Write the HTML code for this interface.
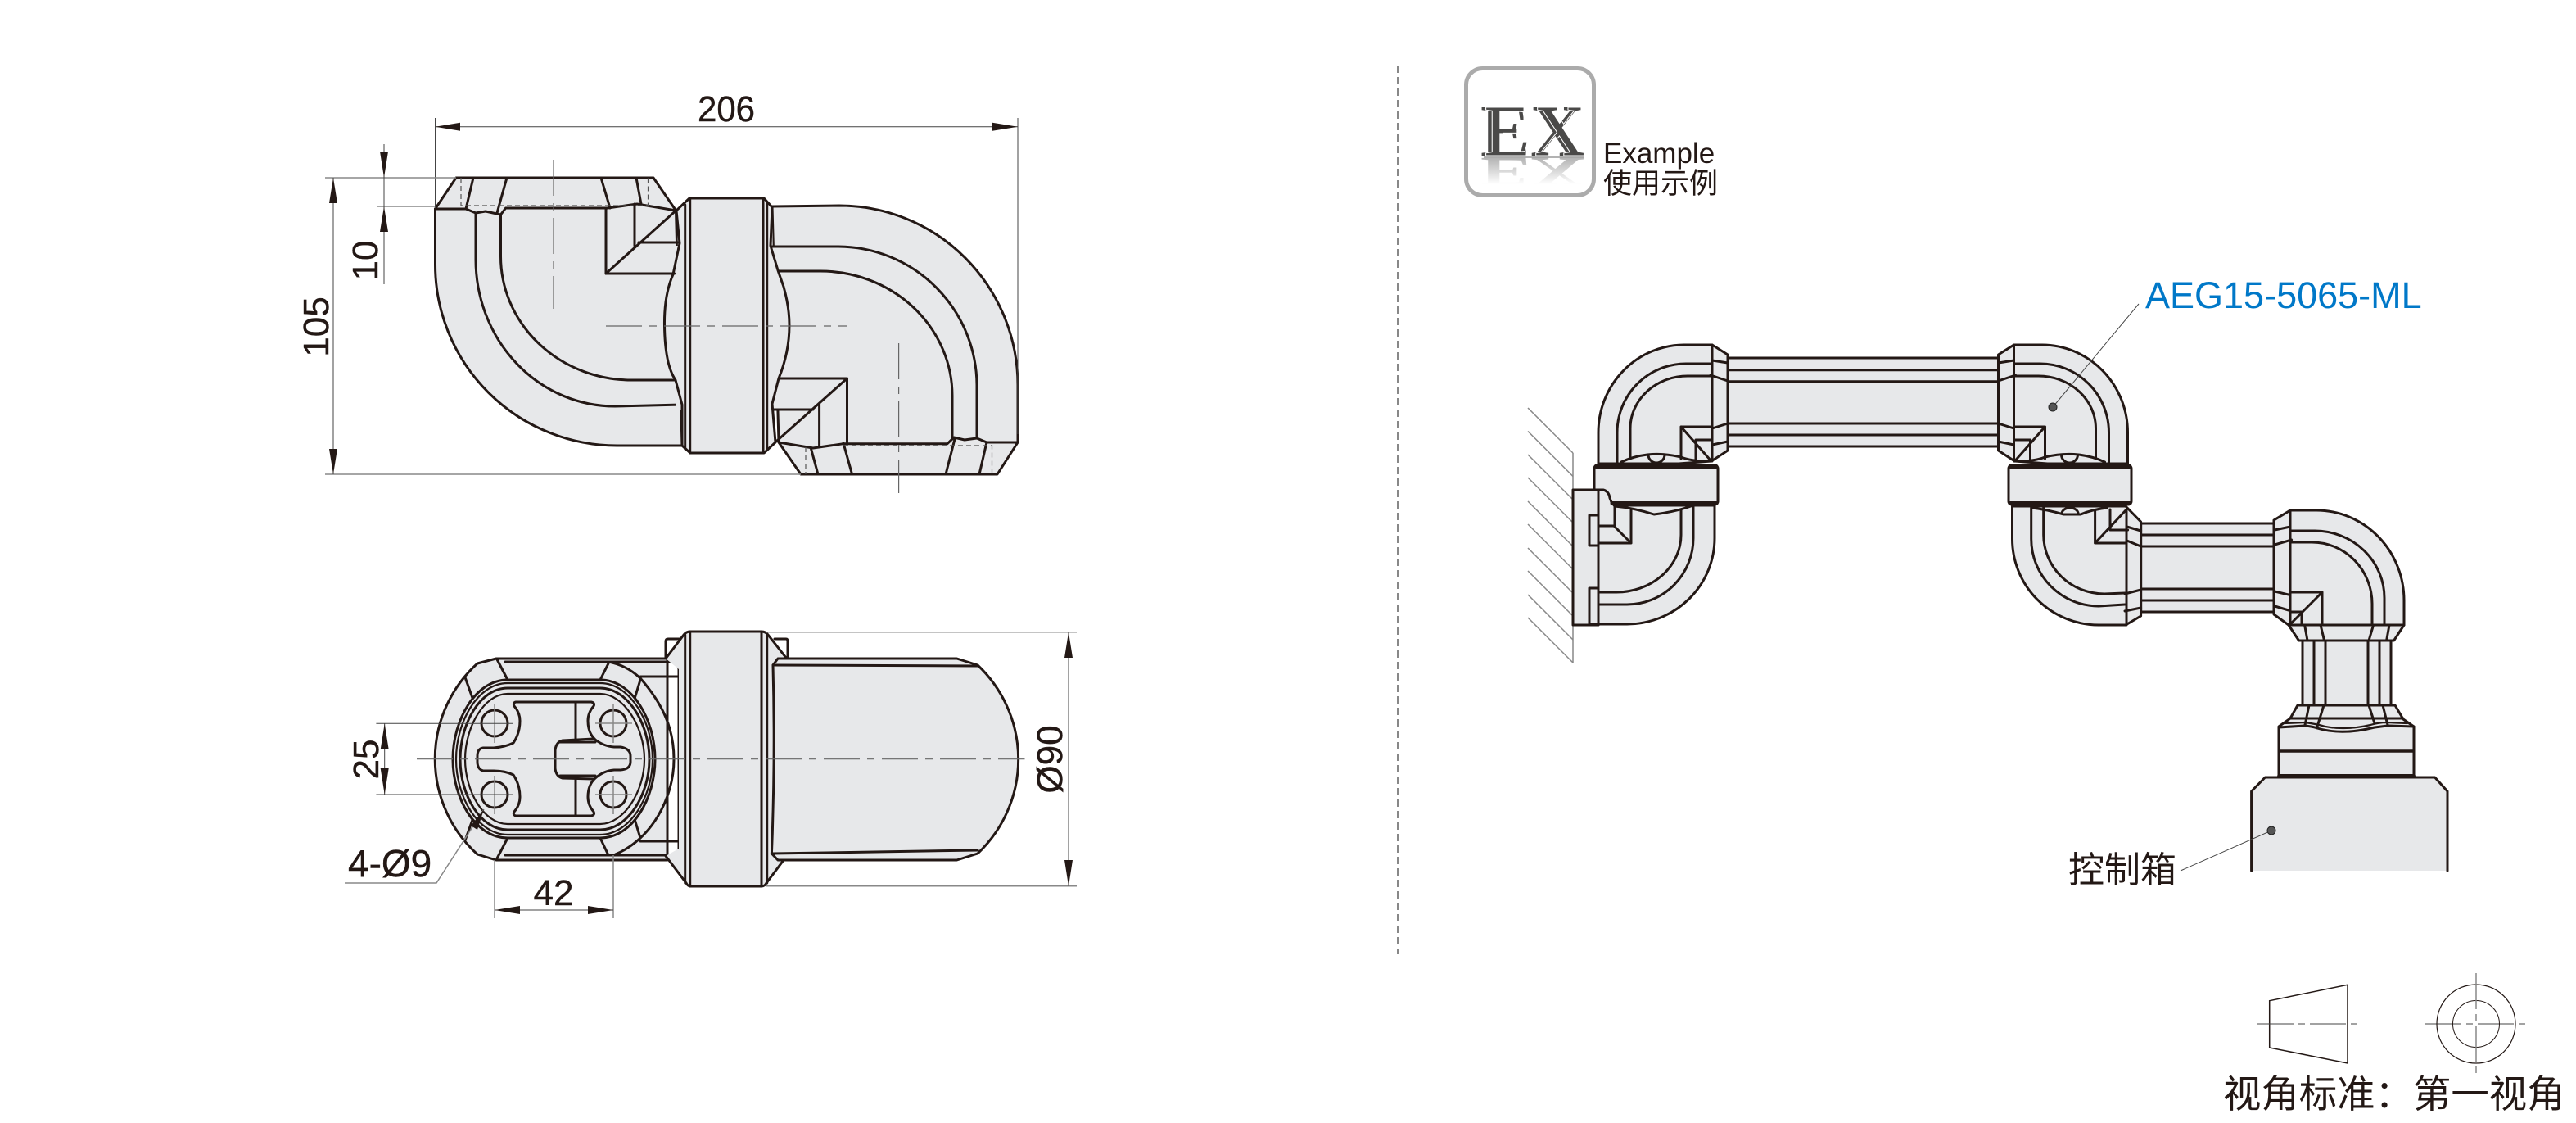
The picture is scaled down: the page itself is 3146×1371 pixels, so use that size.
<!DOCTYPE html>
<html><head><meta charset="utf-8">
<style>
html,body{margin:0;padding:0;background:#fff}
svg{display:block}
text{font-family:"Liberation Sans","Noto Sans CJK SC",sans-serif;fill:#231815}
.w{stroke:#231815;stroke-width:.4}
.s{fill:#e7e8ea;stroke:#231815;stroke-width:3;stroke-linejoin:round;stroke-linecap:round}
.f{fill:#e7e8ea;stroke:none}
.l{fill:none;stroke:#231815;stroke-width:3;stroke-linejoin:round;stroke-linecap:round}
.t{fill:none;stroke:#231815;stroke-width:2.2;stroke-linejoin:round}
.h{fill:none;stroke:#231815;stroke-width:5;stroke-linecap:round}
.d{fill:none;stroke:#444;stroke-width:1}
.g{fill:none;stroke:#888;stroke-width:1.5}
.c{fill:none;stroke:#666;stroke-width:1.2;stroke-dasharray:44 9 9 9}
.k{fill:none;stroke:#555;stroke-width:1.2;stroke-dasharray:6 4}
.a{fill:#231815;stroke:none}
</style></head><body>
<svg xmlns="http://www.w3.org/2000/svg" width="3146" height="1371" viewBox="0 0 3146 1371">
<defs>
<linearGradient id="refl" gradientUnits="userSpaceOnUse" x1="0" y1="0" x2="0" y2="-58"><stop offset="0" stop-color="#b4b4b4"/><stop offset="1" stop-color="#fff"/></linearGradient>
<g id="elbow1">
<path class="s" d="M1952 566V528A105 107 0 0 1 2056.500 421H2091L2110 433V550L2090 563L2050 566Z"/>
<path class="l" d="M1975 565V528A84 84 0 0 1 2059 444H2090"/>
<path class="l" d="M1991 560V523A70 64 0 0 1 2061.500 459H2090"/>
<path class="l" d="M2091 421V563"/>
<path class="l" d="M2091 440L2110 443M2089 458L2110 465M2091 523L2110 517M2091 543L2110 539"/>
<path class="l" d="M2053 560V521H2091M2053 521L2090 563M2071 563V537H2091"/>
<path class="l" d="M1980 564Q1995 557 2012 555Q2032 553 2053 558Q2065 563 2087 563"/>
<path class="l" d="M2013 555A10 10 0 0 0 2033 555"/>
</g>
</defs>

<!-- ================= TOP VIEW ================= -->
<path class="s" d="M1025 251A218 219 0 0 1 1243 470V540L1218 579H978L951 540L943 252Z"/>
<path class="l" d="M942 301H1024A170 170 0 0 1 1193 470V535"/>
<path class="l" d="M951 331H1002A161 152 0 0 1 1163 483V535"/>
<path class="l" d="M951 462H1034.500V540M1034.500 462L949 538M945 500H993M1000.600 493V545"/>
<path class="l" d="M951 540L993 547L1030 541.700H1157L1165 534L1178 537L1193 535L1205 540H1243"/>
<path class="l" d="M990 546L999 579M1030 541L1040.600 579M1166 536L1155 579M1205 540L1196 579"/>
<path class="k" d="M1030 544H1211.500V579M984 546V579"/>
<path class="s" d="M557 217H798L825.500 257L833 544H754A222 221 0 0 1 531.500 323V255Z"/>
<path class="l" d="M531.500 255H569L581 260L593 258L611.500 262L617.600 254H742L778 249L825.500 257"/>
<path class="l" d="M578 217L569 255M619 217L607 260M734 217L745 254M777 217L783 249"/>
<path class="k" d="M563 217V251H791.500V217"/>
<path class="l" d="M581 260V317A170 179 0 0 0 751 496L833 494"/>
<path class="l" d="M611.500 262V313A160 151 0 0 0 772 464H824"/>
<path class="l" d="M740 254V334H823.600M740 334L825.500 257M775 249V300M780 296H829"/>
<!-- centre band -->
<path class="f" d="M827 257L842 242H933L943 253L947 540L933 553H843L833 544Z"/>
<path class="f" d="M826 300H960V500H826Z"/>
<path class="l" d="M826 257L830 297L822 335Q811 360 811.500 397Q812 445 825 464L833 494V544"/>
<path class="l" d="M943 253L941 300L950 330L957 350Q964 375 964 397Q964 430 951 462L943 493L947 540"/>
<path class="l" d="M826 257L842 242H933L943 253M833 544L843 553H933L947 540"/>
<path class="l" d="M836.700 250V548M842.700 242V553M932 242V553M936.700 248V548"/>
<path class="l" d="M822 334H740M828 296H780M942 301H960M951 331H970M951 462H975M945 500H965" style="stroke-dasharray:none"/>
<path class="c" d="M676 195V377M740 398H1034.500M1097.600 419V602"/>
<!-- top view dimensions -->
<path class="d" d="M531.500 144V254M1243 144V530M531.500 154.700H1243"/>
<polygon class="a" points="531.500,154.700 562,149.700 562,159.700"/>
<polygon class="a" points="1243,154.700 1212,149.700 1212,159.700"/>
<text class="w" x="887" y="148" font-size="44" text-anchor="middle" textLength="70" lengthAdjust="spacingAndGlyphs">206</text>
<path class="g" d="M397 217H557M397 579H978M460 252H531"/>
<path class="d" d="M469 176V347M407 217V579"/>
<polygon class="a" points="469,217 464,185 474,185"/>
<polygon class="a" points="469,252 464,283 474,283"/>
<polygon class="a" points="407,217 402,248 412,248"/>
<polygon class="a" points="407,579 402,548 412,548"/>
<text class="w" transform="translate(461,318) rotate(-90)" font-size="44" text-anchor="middle">10</text>
<text class="w" transform="translate(401,399) rotate(-90)" font-size="44" text-anchor="middle">105</text>

<!-- ================= BOTTOM VIEW ================= -->
<path class="l" d="M813 804V783Q813 780 816 780H836M946 780H960Q962 780 962 783V804"/>
<path class="s" d="M606 804H815V1050H606L583 1043A157 157 0 0 1 583 810Z"/>
<path class="l" d="M743 808Q765 812 782 828C810 860 823 890 823 927C823 975 795 1025 751.500 1043"/>
<path class="l" d="M617 808H822Q828 808 829 817L829 1036Q829 1044 822 1044H617M782 826H829M782 1027H829"/>
<path class="l" d="M607 805L620 830M743 810L733 830M607 1048L620 1023M743 1044L733 1023M568 827L577 852M782 830L775 853M568 1026L577 1001M782 1023L775 1000"/>
<path class="s" d="M620 830H733C773 830 800 880 800 927C800 974 773 1023 733 1023H620C580 1023 553 974 553 927C553 880 580 830 620 830Z"/>
<path class="t" d="M620 834H733C770 834 797 882 797 927C797 972 770 1019 733 1019H620C583 1019 557 972 557 927C557 882 583 834 620 834Z"/>
<path class="l" d="M620 840H733C767 840 793 884 793 927C793 970 767 1013 733 1013H620C586 1013 562 970 562 927C562 884 586 840 620 840Z"/>
<path class="t" d="M620 847H733C762 847 787 888 787 927C787 966 762 1006 733 1006H620C591 1006 568 966 568 927C568 888 591 847 620 847Z"/>
<path class="l" d="M630 857H722Q727 858 725 862Q718 870 718 880Q718 895 727 903Q737 911 750 912H758Q770 914 770 923V930Q770 939 758 940H750Q737 941 727 950Q718 958 718 973Q718 983 725 991Q727 995 722 996H630Q626 995 628 991Q635 983 635 973Q635 958 627 946Q617 941 603 941H590Q583 939 583 930V923Q583 914 590 913H603Q617 912 627 907Q635 895 635 880Q635 870 628 862Q626 858 630 857Z"/>
<path class="l" d="M703 857V902M703 951V996"/>
<path class="l" d="M725 902L687 904Q679 906 678 916V938Q679 948 687 950L725 951M684 906H727M684 947H727"/>
<circle class="l" cx="604" cy="883" r="16"/><circle class="l" cx="749" cy="883" r="16"/>
<circle class="l" cx="604" cy="970" r="16"/><circle class="l" cx="749" cy="970" r="16"/>
<!-- band -->
<path class="f" d="M840 771H933L960 803L945 812V1042L957 1050L934 1082H841L813 1045L829 1036V817L813 804Z"/>
<path class="l" d="M813 804L835 775Q838 771 843 771H930Q935 771 938 775L960 803M957 1050L936 1078Q934 1082 930 1082H843Q840 1082 838 1078L813 1045"/>
<path class="l" d="M836.700 775V1078M842.700 771V1082M930 771V1082M936.700 775V1078"/>
<!-- barrel -->
<path class="s" d="M944 812L950 804H1168.500L1194 812A158 158 0 0 1 1194 1042L1168.500 1050H950L942.400 1042Q947 927 944 812Z"/>
<path class="l" d="M944 812L1194 813M942.400 1042L1194 1038"/>
<path class="c" d="M509 926.700H1251.500"/>
<path class="g" d="M604 860V907M749 860V907M604 947V994M749 947V994M727 883H772M727 970H772"/>
<!-- bottom dims -->
<path class="d" d="M459.400 883.300H627M459.400 970H627M469.700 883.300V970"/>
<polygon class="a" points="469.700,883.300 464.700,915 474.700,915"/>
<polygon class="a" points="469.700,970 464.700,938 474.700,938"/>
<text class="w" transform="translate(462,927) rotate(-90)" font-size="44" text-anchor="middle">25</text>
<path class="g" d="M421 1078H533L591 988"/>
<polygon class="a" points="591,988 575,1008 583,1013"/>
<text class="w" x="425" y="1070" font-size="46">4-Ø9</text>
<path class="g" d="M604 1050V1121M749 1044V1121"/>
<path class="d" d="M604 1111H749"/>
<polygon class="a" points="604,1111 635,1106 635,1116"/>
<polygon class="a" points="749,1111 718,1106 718,1116"/>
<text class="w" x="676" y="1105" font-size="44" text-anchor="middle">42</text>
<path class="g" d="M936 771.700H1315M936 1081.700H1315"/>
<path class="d" d="M1305 771.700V1081.700"/>
<polygon class="a" points="1305,771.700 1300,803 1310,803"/>
<polygon class="a" points="1305,1081.700 1300,1050 1310,1050"/>
<text class="w" transform="translate(1297,927) rotate(-90)" font-size="44" text-anchor="middle">Ø90</text>

<!-- divider -->
<path d="M1707 80V1165" fill="none" stroke="#888" stroke-width="2" stroke-dasharray="9 5"/>

<!-- EX icon -->
<rect x="1790.500" y="83.500" width="156" height="155" rx="20" fill="#fff" stroke="#ababab" stroke-width="5"/>
<text x="1808" y="190" style="font-family:'Liberation Serif',serif;fill:#4a4948" font-weight="bold" font-size="90" textLength="127" lengthAdjust="spacingAndGlyphs">EX</text>
<text x="1813" y="190" style="font-family:'Liberation Serif',serif;fill:none;stroke:#fff;stroke-width:1" font-weight="bold" font-size="90" textLength="127" lengthAdjust="spacingAndGlyphs">EX</text>
<text transform="translate(0,193) scale(1,-.55)" x="1808" y="0" style="font-family:'Liberation Serif',serif;fill:url(#refl)" font-weight="bold" font-size="90" textLength="127" lengthAdjust="spacingAndGlyphs">EX</text>
<path d="M1812 192H1934" stroke="#999" stroke-width="1.500" fill="none"/>
<text x="1958" y="199" font-size="35">Example</text>
<text x="1958" y="236" font-size="35">使用示例</text>

<!-- ================= EXAMPLE ASSEMBLY ================= -->
<path d="M1921 553V809" class="g"/>
<path class="g" d="M1866 498L1921 553M1866 526.500L1921 581.500M1866 555L1921 610M1866 583L1921 638M1866 612L1921 667M1866 640L1921 695M1866 669L1921 724M1866 697L1921 752M1866 726L1921 781M1866 754L1921 809"/>

<!-- tube 1 -->
<rect class="s" x="2110" y="437" width="330.500" height="108"/>
<path class="l" d="M2110 451.700H2440.500M2110 465.700H2440.500M2110 517H2440.500M2110 531H2440.500"/>
<use href="#elbow1"/>
<use href="#elbow1" transform="translate(4550.500,0) scale(-1,1)"/>

<!-- lower elbow 1 -->
<path class="s" d="M1969 617H2094V657A107 105 0 0 1 1987 762H1952V640H1969Z"/>
<path class="l" d="M2068 618V657A81 81 0 0 1 1987 738H1952"/>
<path class="l" d="M2053 622V653A79 70 0 0 1 1974 723H1953"/>
<path class="l" d="M1972 618Q1995 620 2020 628Q2045 625 2065 618"/>
<path class="l" d="M1971 642L1992 663H1953M1992 663V622"/>
<!-- band 1 -->
<rect class="s" x="1947" y="568" width="151" height="48" rx="4"/>
<path class="h" d="M1949 569.500H2096"/>
<!-- base plate -->
<path class="s" d="M1921 598H1958Q1965 600 1966 608L1968 613L1972 618V642H1952V763H1921Z"/>
<path class="l" d="M1952 598V763M1941 718V762H1952M1941 718H1952M1941 629V666H1952M1941 629H1952"/>
<path class="h" d="M1969 614.500H2096"/>

<!-- elbow 3 -->
<rect class="s" x="2614.600" y="639" width="162.400" height="108"/>
<path class="l" d="M2614.600 653H2777M2614.600 667H2777M2614.600 719H2777M2614.600 733H2777"/>
<path class="s" d="M2457.500 618H2596L2614.600 637V752L2596 763H2563A105.500 105 0 0 1 2457.500 658Z"/>
<path class="l" d="M2597 623V763"/>
<path class="l" d="M2597.500 643L2614.600 648M2597.500 660L2614.600 667M2595 725L2614.600 720M2595 746L2614.600 742"/>
<path class="l" d="M2558.600 623V663H2597M2558.600 663L2597 622M2577 622V647H2598.600"/>
<path class="l" d="M2480.700 620V658A82.300 82 0 0 0 2563 740L2595 738"/>
<path class="l" d="M2495.700 620V653A74.300 72 0 0 0 2570 725L2595 724"/>
<path class="l" d="M2481 620Q2500 622 2520 628H2541Q2555 622 2573.600 620"/>
<path class="l" d="M2518 627A10 7 0 0 1 2538 627"/>
<!-- band 2 -->
<rect class="s" x="2453" y="568" width="150" height="48" rx="4"/>
<path class="h" d="M2455 569.500H2601M2455 614.500H2601"/>

<!-- elbow 4 -->
<path class="s" d="M2777 635L2797 623H2829A107 110 0 0 1 2936 733V763L2923.600 782H2807.500L2795 763L2777 750Z"/>
<path class="l" d="M2797 623V763H2936"/>
<path class="l" d="M2797 648H2827A85 82 0 0 1 2912 730V763"/>
<path class="l" d="M2798.600 662H2823.600A73.400 75 0 0 1 2897 737V762"/>
<path class="l" d="M2778 647L2797 643M2778 665L2798.600 659M2778 722L2795 726M2778 740L2795 745"/>
<path class="l" d="M2797 723H2836V763M2836 723L2797 762M2811 747V763M2797 747H2811"/>
<path class="l" d="M2814.600 763L2818 782M2834 763L2838.600 782M2898.600 763L2893 782M2918 763L2914.600 782"/>

<!-- vertical tube -->
<rect class="s" x="2812" y="782" width="108" height="79"/>
<path class="l" d="M2826 782V861M2840 782V861M2892 782V861M2906 782V861"/>
<!-- lower band + flange -->
<path class="s" d="M2806 861H2925L2935 878L2948 887V948H2783V887L2797 877Z"/>
<path class="l" d="M2797 877H2935"/>
<path class="l" d="M2820 861L2815 885M2838 861L2830 887M2893 861L2900 883M2910 861L2916 885"/>
<path class="l" d="M2790 883L2815 882Q2830 884 2840 887Q2865 892 2895 885Q2905 882 2915 882L2940 883" style="stroke-width:2.200"/>
<path class="l" d="M2783 888L2815 886Q2825 887 2830 889Q2860 898 2900 888L2916 886L2948 887"/>
<path class="h" style="stroke-width:3.500" d="M2783.600 917H2947.500"/>
<!-- control box -->
<path d="M2766.400 949H2973.600L2989 966V1063H2749.600V966Z" fill="#e7e8ea"/>
<path class="l" d="M2749.600 1063V966L2766.400 949H2973.600L2989 966V1063"/>
<path class="h" d="M2783.600 947.500H2947.500"/>

<!-- leaders -->
<path class="d" d="M2612 371L2507 497"/>
<circle cx="2507" cy="497" r="5" fill="#555" stroke="#222" stroke-width="1"/>
<text x="2620" y="376" font-size="45" style="fill:#0078c8">AEG15-5065-ML</text>
<path class="d" d="M2663 1063L2774 1014"/>
<circle cx="2774" cy="1014" r="5" fill="#555" stroke="#222" stroke-width="1"/>
<text x="2526" y="1077" font-size="44">控制箱</text>

<!-- projection symbol -->
<path fill="none" stroke="#231815" stroke-width="1.500" d="M2771.700 1221.700L2867 1202.300V1298L2771.700 1279Z"/>
<path fill="none" stroke="#444" stroke-width="1" stroke-dasharray="44 6 8 6" d="M2757 1250H2881.700M2962 1250H3086"/>
<circle cx="3024" cy="1250" r="48" fill="none" stroke="#231815" stroke-width="1.200"/>
<circle cx="3024" cy="1250" r="28.500" fill="none" stroke="#231815" stroke-width="1"/>
<path fill="none" stroke="#888" stroke-width="1.500" stroke-dasharray="44 6 8 6" d="M3024 1188V1312"/>
<text x="2715" y="1352" font-size="46.400">视角标准：第一视角</text>
</svg>
</body></html>
